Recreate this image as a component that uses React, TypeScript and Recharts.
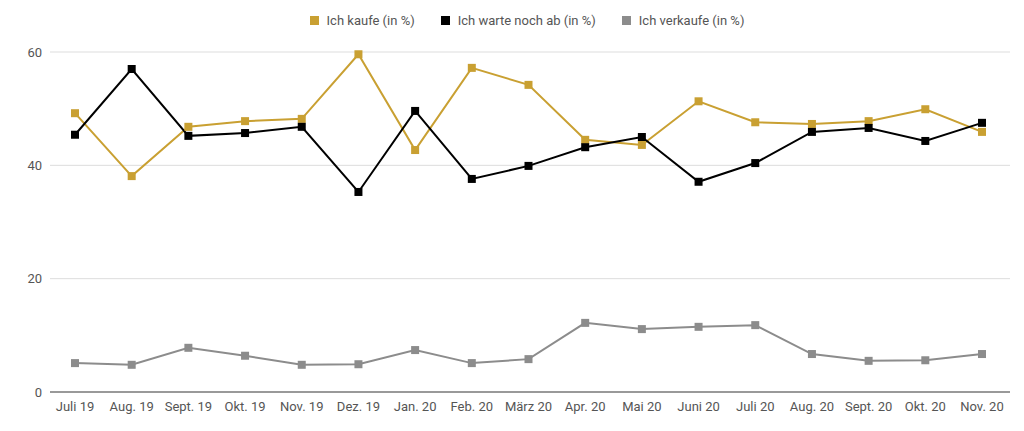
import React from "react";
import { CartesianGrid, Line, LineChart, XAxis, YAxis } from "recharts";

const months = ["Juli 19", "Aug. 19", "Sept. 19", "Okt. 19", "Nov. 19", "Dez. 19", "Jan. 20", "Feb. 20", "März 20", "Apr. 20", "Mai 20", "Juni 20", "Juli 20", "Aug. 20", "Sept. 20", "Okt. 20", "Nov. 20"];
const kaufe = [49.2, 38.1, 46.8, 47.8, 48.2, 59.6, 42.7, 57.2, 54.2, 44.5, 43.6, 51.3, 47.6, 47.3, 47.8, 49.9, 45.9];
const warte = [45.4, 57.0, 45.2, 45.7, 46.8, 35.3, 49.6, 37.6, 39.9, 43.2, 45.0, 37.1, 40.4, 45.9, 46.6, 44.3, 47.5];
const verkaufe = [5.1, 4.8, 7.8, 6.4, 4.8, 4.9, 7.4, 5.1, 5.8, 12.2, 11.1, 11.5, 11.8, 6.7, 5.5, 5.6, 6.7];
const yTicks = [0, 20, 40, 60];

const series = [
  { key: "kaufe", name: "Ich kaufe (in %)", color: "#c9a032" },
  { key: "warte", name: "Ich warte noch ab (in %)", color: "#000000" },
  { key: "verkaufe", name: "Ich verkaufe (in %)", color: "#8c8c8c" },
];

const data = months.map((m, i) => ({ m, kaufe: kaufe[i], warte: warte[i], verkaufe: verkaufe[i] }));

const squareDot = (color: string) => (p: any) => (
  <rect key={p.index} x={p.cx - 4} y={p.cy - 4} width={8} height={8} fill={color} />
);

export default function App() {
  return (
    <div style={{ position: "fixed", left: 0, top: 0, width: 1024, height: 431, background: "#fff", fontFamily: "Roboto, sans-serif" }}>
      <div style={{ position: "absolute", top: 13, left: 0, width: 1024, display: "flex", justifyContent: "center", gap: 26, fontSize: 13, color: "#555", paddingLeft: 30, boxSizing: "border-box" }}>
        {series.map((s) => (
          <span key={s.key} style={{ display: "flex", alignItems: "center" }}>
            <span style={{ width: 9, height: 9, background: s.color, marginRight: 8, display: "inline-block" }} />
            {s.name}
          </span>
        ))}
      </div>
      <LineChart width={1024} height={431} data={data} margin={{ top: 52, right: 14, left: 0, bottom: 0 }}>
        <CartesianGrid vertical={false} stroke="#dddddd" />
        <XAxis dataKey="m" height={39} padding={{ left: 25, right: 28 }} tickLine={false} axisLine={{ stroke: "#444" }} interval={0} tick={{ fontSize: 13, fill: "#555" }} tickMargin={4} />
        <YAxis width={50} domain={[0, 60]} ticks={yTicks} axisLine={false} tickLine={false} tick={{ fontSize: 13, fill: "#555" }} />
        {series.map((s) => (
          <Line key={s.key} dataKey={s.key} name={s.name} stroke={s.color} strokeWidth={2} dot={squareDot(s.color)} isAnimationActive={false} />
        ))}
      </LineChart>
    </div>
  );
}
